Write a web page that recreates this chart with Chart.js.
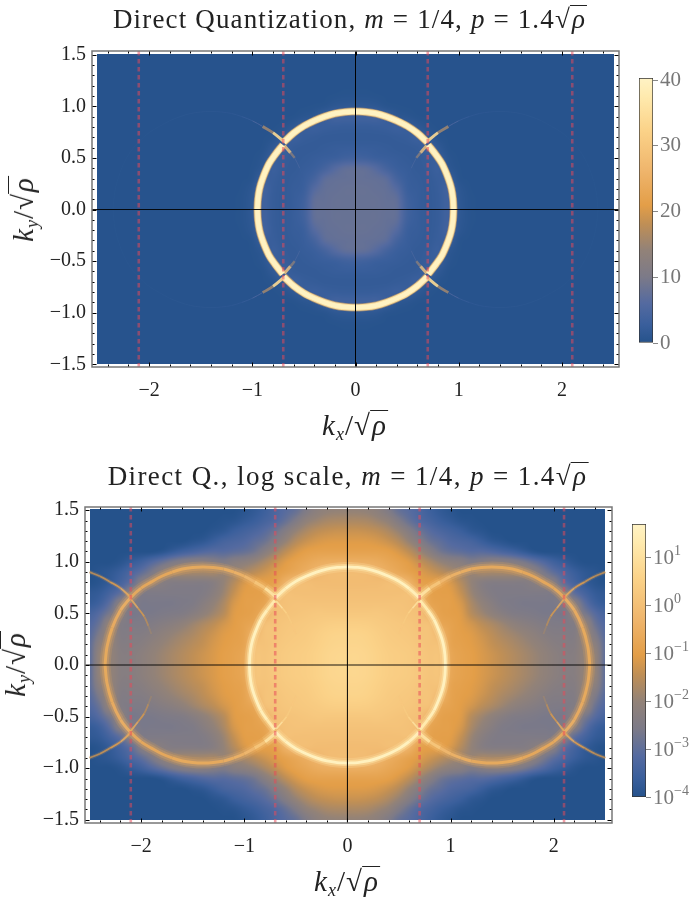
<!DOCTYPE html>
<html>
<head>
<meta charset="utf-8">
<title>Direct Quantization</title>
<script src="https://cdn.jsdelivr.net/npm/chart.js@4"></script>
<style>
  html, body { margin: 0; padding: 0; background: #fff; }
  body { position: relative; width: 689px; height: 897px; overflow: hidden; font-family: "Liberation Serif", serif; color: #222; }
  canvas { position: absolute; }
  .txt { position: absolute; white-space: nowrap; line-height: 1; transform: translate(-50%, -50%); }
  .title { font-size: 27px; letter-spacing: 1.15px; }
  .axis { font-size: 29px; letter-spacing: 1px; }
  .axis sub { font-size: 18px; line-height: 0; vertical-align: -5px; }
  .vert { transform: translate(-50%, -50%) rotate(-90deg); }
  .rad { display: inline-block; }
  .rad b { font-weight: normal; display: inline-block; border-top: 1px solid #222; padding: 1px 1px 0 2px; margin-left: -1px; line-height: 0.9; }
</style>
</head>
<body>
<canvas id="topChart" style="left:0;top:0"></canvas>
<canvas id="topBar" style="left:639px;top:0"></canvas>
<canvas id="logChart" style="left:0;top:450px"></canvas>
<canvas id="logBar" style="left:632px;top:450px"></canvas>

<div class="txt title" style="left:350px;top:19px">Direct Quantization, <i>m</i> = 1/4, <i>p</i> = 1.4<span class="rad">√<b><i>ρ</i></b></span></div>
<div class="txt axis" style="left:355px;top:425px"><i>k<sub>x</sub></i>/<span class="rad">√<b><i>ρ</i></b></span></div>
<div class="txt axis vert" style="left:23px;top:209px"><i>k<sub>y</sub></i>/<span class="rad">√<b><i>ρ</i></b></span></div>

<div class="txt title" style="left:348px;top:476px;letter-spacing:1.4px">Direct Q., log scale, <i>m</i> = 1/4, <i>p</i> = 1.4<span class="rad">√<b><i>ρ</i></b></span></div>
<div class="txt axis" style="left:347px;top:881px"><i>k<sub>x</sub></i>/<span class="rad">√<b><i>ρ</i></b></span></div>
<div class="txt axis vert" style="left:15px;top:664px"><i>k<sub>y</sub></i>/<span class="rad">√<b><i>ρ</i></b></span></div>

<script>
// Axis ticks, shared by both panels
const xTicks = [-2.4, -2.2, -2, -1.8, -1.6, -1.4, -1.2, -1, -0.8, -0.6, -0.4, -0.2, 0, 0.2, 0.4, 0.6, 0.8, 1, 1.2, 1.4, 1.6, 1.8, 2, 2.2, 2.4];
const xMajor = [-2, -1, 0, 1, 2];
const yTicks = [-1.5, -1.4, -1.3, -1.2, -1.1, -1, -0.9, -0.8, -0.7, -0.6, -0.5, -0.4, -0.3, -0.2, -0.1, 0, 0.1, 0.2, 0.3, 0.4, 0.5, 0.6, 0.7, 0.8, 0.9, 1, 1.1, 1.2, 1.3, 1.4, 1.5];
const yMajor = [-1.5, -1, -0.5, 0, 0.5, 1, 1.5];

// Dashed vertical lines
const dashX = [-2.1, -0.7, 0.7, 2.1];

// Colour bars
const topBarTicks = [0, 10, 20, 30, 40];
const logBarTicks = [-4, -3, -2, -1, 0, 1];

// Grid of the density, one quadrant (the picture is mirrored in both axes)
const gridX = [0, 0.1, 0.2, 0.3, 0.4, 0.5, 0.6, 0.7, 0.8, 0.9, 1, 1.1, 1.2, 1.3, 1.4, 1.5, 1.6, 1.7, 1.8, 1.9, 2, 2.1, 2.2, 2.3, 2.4, 2.5];
const gridY = [0, 0.1, 0.2, 0.3, 0.4, 0.5, 0.6, 0.7, 0.8, 0.9, 1, 1.1, 1.2, 1.3, 1.4, 1.5];

// Linear panel, values 0..40, rows from y=0 upwards
const linearGrid = [
  [8, 8, 8, 7.8, 7.4, 3.8, 2.5, 2, 2.4, 3.5, 1.5, .5, .3, .3, .3, .3, .3, .3, .3, .3, .3, .3, .3, .3, .3, .3],
  [8, 8, 8, 7.7, 7.2, 3.6, 2.5, 2, 2.4, 3.5, 1.4, .5, .3, .3, .3, .3, .3, .3, .3, .3, .3, .3, .3, .3, .3, .3],
  [8, 8, 7.8, 7.5, 6, 3, 2.4, 2, 2.5, 3.6, 1.2, .4, .3, .3, .3, .3, .3, .3, .3, .3, .3, .3, .3, .3, .3, .3],
  [7.8, 7.7, 7.5, 6.8, 4.2, 2.7, 2.2, 2, 2.6, 2.5, .6, .3, .3, .3, .3, .3, .3, .3, .3, .3, .3, .3, .3, .3, .3, .3],
  [7.4, 7.2, 6, 4.2, 2.9, 2.4, 2, 2.2, 2.8, 1.2, .4, .3, .3, .3, .3, .3, .3, .3, .3, .3, .3, .3, .3, .3, .3, .3],
  [3.8, 3.6, 3, 2.7, 2.4, 2.1, 2, 2.4, 2.4, .8, .3, .3, .3, .3, .3, .3, .3, .3, .3, .3, .3, .3, .3, .3, .3, .3],
  [2.5, 2.5, 2.4, 2.2, 2, 2, 2.2, 2.8, 1.5, .4, .3, .3, .3, .3, .3, .3, .3, .3, .3, .3, .3, .3, .3, .3, .3, .3],
  [2, 2, 2, 2, 2.2, 2.4, 2.8, 1.6, .6, .3, .3, .3, .3, .3, .3, .3, .3, .3, .3, .3, .3, .3, .3, .3, .3, .3],
  [2.4, 2.4, 2.5, 2.6, 2.8, 2.4, 1.4, .6, .3, .3, .3, .3, .3, .3, .3, .3, .3, .3, .3, .3, .3, .3, .3, .3, .3, .3],
  [3.5, 3.5, 3.6, 2.5, 1.2, .8, .4, .3, .3, .3, .3, .3, .3, .3, .3, .3, .3, .3, .3, .3, .3, .3, .3, .3, .3, .3],
  [1.5, 1.4, 1.2, .6, .4, .3, .3, .3, .3, .3, .3, .3, .3, .3, .3, .3, .3, .3, .3, .3, .3, .3, .3, .3, .3, .3],
  [.5, .5, .4, .3, .3, .3, .3, .3, .3, .3, .3, .3, .3, .3, .3, .3, .3, .3, .3, .3, .3, .3, .3, .3, .3, .3],
  [.3, .3, .3, .3, .3, .3, .3, .3, .3, .3, .3, .3, .3, .3, .3, .3, .3, .3, .3, .3, .3, .3, .3, .3, .3, .3],
  [.3, .3, .3, .3, .3, .3, .3, .3, .3, .3, .3, .3, .3, .3, .3, .3, .3, .3, .3, .3, .3, .3, .3, .3, .3, .3],
  [.3, .3, .3, .3, .3, .3, .3, .3, .3, .3, .3, .3, .3, .3, .3, .3, .3, .3, .3, .3, .3, .3, .3, .3, .3, .3],
  [.3, .3, .3, .3, .3, .3, .3, .3, .3, .3, .3, .3, .3, .3, .3, .3, .3, .3, .3, .3, .3, .3, .3, .3, .3, .3]
];

// Log panel, log10 of the value, rows from y=0 upwards
const logGrid = [
  [.7, .7, .65, .55, .45, .4, .35, .25, .15, .1, -.7, -.9, -1, -1.15, -1.3, -1.45, -1.6, -1.75, -1.9, -2.05, -2.2, -2.3, -2.3, -2, -2, -3],
  [.7, .7, .65, .55, .45, .4, .35, .25, .15, .1, -.7, -.9, -1, -1.15, -1.3, -1.45, -1.6, -1.75, -1.9, -2.05, -2.2, -2.3, -2.3, -2, -2, -3],
  [.65, .65, .6, .5, .4, .35, .3, .2, .1, 0, -.8, -.95, -1.05, -1.2, -1.4, -1.55, -1.7, -1.85, -2, -2.15, -2.3, -2.35, -2.35, -2, -2.2, -3],
  [.6, .6, .55, .45, .35, .3, .25, .15, .1, -.3, -.85, -1, -1.1, -1.3, -1.5, -1.7, -1.85, -2, -2.15, -2.3, -2.4, -2.4, -2.4, -1.9, -2.5, -3.1],
  [.45, .45, .42, .35, .3, .25, .2, .1, 0, -.7, -.9, -1.05, -1.25, -1.5, -1.7, -1.9, -2.1, -2.25, -2.35, -2.45, -2.5, -2.5, -2.4, -2, -2.8, -3.2],
  [.25, .25, .25, .25, .2, .15, .1, 0, -.5, -.9, -1, -1.1, -1.55, -1.85, -2.1, -2.3, -2.45, -2.5, -2.55, -2.6, -2.6, -2.6, -2.2, -2.6, -3.1, -3.4],
  [.1, .1, .1, .1, .1, .1, .05, -.1, -.8, -.95, -1, -1.2, -1.7, -2.05, -2.3, -2.5, -2.55, -2.6, -2.6, -2.6, -2.6, -2.4, -2.3, -3, -3.5, -3.7],
  [0, 0, 0, 0, 0, 0, 0, -.4, -.9, -1, -1.05, -1.4, -1.9, -2.25, -2.45, -2.5, -2.5, -2.5, -2.5, -2.5, -2.5, -2.3, -3, -3.4, -3.7, -3.8],
  [-.1, -.1, -.1, -.1, -.05, -.1, -.4, -.9, -1, -1, -1.2, -1.6, -2, -2.3, -2.4, -2.4, -2.4, -2.4, -2.3, -2.2, -2.4, -3, -3.4, -3.7, -3.9, -4],
  [-.1, -.1, -.15, -.3, -.5, -.7, -.9, -1.1, -1.3, -1.5, -1.7, -1.9, -2, -1.8, -1.8, -1.8, -1.8, -1.9, -2.2, -2.6, -3, -3.3, -3.6, -3.8, -3.9, -4],
  [-.5, -.5, -.52, -.6, -.75, -.9, -1.1, -1.4, -1.7, -2, -2.2, -2.3, -2.5, -2.4, -2.3, -2.3, -2.4, -2.6, -2.9, -3.2, -3.5, -3.7, -3.9, -4, -4, -4],
  [-.9, -.9, -.9, -.92, -1, -1.2, -1.5, -1.9, -2.3, -2.7, -2.9, -3, -3.1, -3.1, -3.2, -3.35, -3.5, -3.7, -3.9, -4, -4, -4, -4, -4, -4, -4],
  [-1.1, -1.1, -1.12, -1.2, -1.35, -1.6, -2, -2.4, -2.8, -3, -3.2, -3.3, -3.4, -3.6, -3.8, -3.9, -4, -4, -4, -4, -4, -4, -4, -4, -4, -4],
  [-1.35, -1.35, -1.4, -1.5, -1.7, -2, -2.4, -2.8, -3.1, -3.3, -3.45, -3.6, -3.8, -3.9, -4, -4, -4, -4, -4, -4, -4, -4, -4, -4, -4, -4],
  [-1.7, -1.7, -1.75, -1.9, -2.1, -2.5, -2.9, -3.2, -3.4, -3.6, -3.75, -3.9, -3.95, -4, -4, -4, -4, -4, -4, -4, -4, -4, -4, -4, -4, -4],
  [-2, -2, -2.05, -2.2, -2.5, -2.9, -3.1, -3.3, -3.55, -3.75, -3.9, -4, -4, -4, -4, -4, -4, -4, -4, -4, -4, -4, -4, -4, -4, -4]
];

// Thin bright arcs, upper right quadrant
const ringUpX = [0, 0.1, 0.2, 0.3, 0.4, 0.5, 0.6, 0.695];
const ringUpY = [0.95, 0.945, 0.93, 0.9, 0.86, 0.81, 0.74, 0.652];
const ringLowX = [0.705, 0.78, 0.84, 0.9, 0.93, 0.945, 0.95];
const ringLowY = [0.625, 0.53, 0.44, 0.3, 0.2, 0.1, 0];
const sideOutX = [0.69, 0.8, 0.9, 1, 1.1, 1.2, 1.3, 1.4, 1.5, 1.6, 1.7, 1.8, 1.9, 2, 2.1, 2.2, 2.28, 2.33, 2.35];
const sideOutY = [0.655, 0.745, 0.805, 0.86, 0.9, 0.93, 0.945, 0.95, 0.945, 0.93, 0.9, 0.86, 0.805, 0.745, 0.655, 0.53, 0.36, 0.18, 0];
const sideInX = [0.69, 0.63, 0.59, 0.54, 0.5];
const sideInY = [0.62, 0.55, 0.5, 0.4, 0.3];
const farOutX = [2.1, 2.2, 2.3, 2.4, 2.5];
const farOutY = [0.655, 0.745, 0.805, 0.86, 0.9];
const farInX = [2.1, 2.03, 1.97, 1.93, 1.9];
const farInY = [0.64, 0.55, 0.47, 0.38, 0.3];

// Brightness along the arcs, linear panel
const ringUpLin = [40, 40, 40, 40, 40, 40, 40, 40];
const ringLowLin = [40, 40, 40, 40, 40, 40, 40];
const sideOutLin = [34, 15, 5, 2.2, 1.4, 1.1, 1, .9, .9, .8, .8, .7, .7, .6, .6, .6, .6, .6, .6];
const sideInLin = [30, 13, 4.5, 2.6, 2];

// Brightness along the arcs, log panel (log10)
const ringUpLog = [1.6, 1.6, 1.6, 1.6, 1.6, 1.6, 1.5, 1.3];
const ringLowLog = [1.3, 1.5, 1.6, 1.6, 1.6, 1.6, 1.6];
const sideOutLog = [1.1, 0.2, -0.2, -0.4, -0.5, -0.6, -0.6, -0.6, -0.6, -0.6, -0.65, -0.65, -0.65, -0.6, -0.45, -0.55, -0.6, -0.6, -0.6];
const sideInLog = [1.1, 0.6, 0.35, 0.25, 0.2];
const farOutLog = [-0.6, -1, -1.3, -1.4, -1.5];
const farInLog = [-0.6, -1.1, -1.5, -1.9, -2.2];

// Colour scale of both panels and both bars
const cmapPos = [0, 0.07, 0.15, 0.25, 0.35, 0.45, 0.52, 0.65, 0.8, 0.93, 1];
const cmapRgb = [[37, 82, 139], [58, 95, 156], [84, 106, 160], [124, 122, 136], [146, 130, 120], [192, 143, 85], [227, 158, 72], [239, 181, 108], [251, 210, 136], [255, 234, 174], [255, 243, 197]];

function cmap(t) {
  t = Math.min(1, Math.max(0, t));
  let i = 0;
  while (i < cmapPos.length - 2 && t > cmapPos[i + 1]) i++;
  const f = (t - cmapPos[i]) / (cmapPos[i + 1] - cmapPos[i]);
  return cmapRgb[i].map((c, k) => c + (cmapRgb[i + 1][k] - c) * f);
}

function rgba(t, a) {
  const c = cmap(t);
  return `rgba(${Math.round(c[0])},${Math.round(c[1])},${Math.round(c[2])},${a})`;
}

const linearT = v => v / 40.35;
const logT = v => (v + 4) / 5.7;

// Catmull-Rom weights, the grid is mirrored through the axes when read
function crWeights(f) {
  return [-0.5 * f + f * f - 0.5 * f * f * f, 1 - 2.5 * f * f + 1.5 * f * f * f, 0.5 * f + 2 * f * f - 1.5 * f * f * f, -0.5 * f * f + 0.5 * f * f * f];
}

function readGrid(grid, x, y) {
  const gx = Math.abs(x) / 0.1, gy = Math.abs(y) / 0.1;
  const ix = Math.floor(gx), iy = Math.floor(gy);
  const wx = crWeights(gx - ix), wy = crWeights(gy - iy);
  let s = 0;
  for (let j = 0; j < 4; j++) {
    const r = grid[Math.min(gridY.length - 1, Math.abs(iy + j - 1))];
    for (let i = 0; i < 4; i++) {
      s += wy[j] * wx[i] * r[Math.min(gridX.length - 1, Math.abs(ix + i - 1))];
    }
  }
  return s;
}

const heatmapPlugin = {
  id: 'heatmap',
  beforeDatasetsDraw(chart, args, opts) {
    const { ctx, scales: { x, y } } = chart;
    const left = Math.round(x.getPixelForValue(-2.5));
    const right = Math.round(x.getPixelForValue(2.5));
    const top = Math.round(y.getPixelForValue(1.51));
    const bottom = Math.round(y.getPixelForValue(-1.5));
    const img = ctx.createImageData(right - left, bottom - top);
    let p = 0;
    for (let py = top; py < bottom; py++) {
      const vy = Math.min(1.5, Math.abs(y.getValueForPixel(py + 0.5)));
      for (let px = left; px < right; px++) {
        const vx = x.getValueForPixel(px + 0.5);
        const c = cmap(opts.toT(readGrid(opts.grid, vx, vy)));
        img.data[p++] = c[0];
        img.data[p++] = c[1];
        img.data[p++] = c[2];
        img.data[p++] = 255;
      }
    }
    ctx.putImageData(img, left, top);
  }
};

// Gray frame with black inward ticks on all four sides
const framePlugin = {
  id: 'frame',
  afterDatasetsDraw(chart) {
    const { ctx, chartArea: a, scales: { x, y } } = chart;
    ctx.save();
    ctx.strokeStyle = '#000';
    ctx.lineWidth = 1;
    ctx.beginPath();
    xTicks.forEach(v => {
      const px = Math.round(x.getPixelForValue(v)) + 0.5;
      const len = xMajor.includes(v) ? 4.5 : 2.5;
      ctx.moveTo(px, a.top); ctx.lineTo(px, a.top + len);
      ctx.moveTo(px, a.bottom); ctx.lineTo(px, a.bottom - len);
    });
    yTicks.forEach(v => {
      const py = Math.round(y.getPixelForValue(v)) + 0.5;
      const len = yMajor.includes(v) ? 4.5 : 2.5;
      ctx.moveTo(a.left, py); ctx.lineTo(a.left + len, py);
      ctx.moveTo(a.right, py); ctx.lineTo(a.right - len, py);
    });
    ctx.stroke();
    ctx.strokeStyle = '#777';
    ctx.lineWidth = 1.5;
    ctx.strokeRect(a.left, a.top, a.right - a.left, a.bottom - a.top);
    ctx.restore();
  }
};

// All four mirror images of an arc, with gaps between them
function mirrored(xs, ys, vs) {
  const out = [];
  [[1, 1], [-1, 1], [-1, -1], [1, -1]].forEach(([sx, sy]) => {
    xs.forEach((x, i) => out.push({ x: sx * x, y: sy * ys[i], v: vs[i] }));
    out.push({ x: NaN, y: NaN, v: 0 });
  });
  return out;
}

// l.taper: the line gets thin where the arc is weak
function arcLayers(xs, ys, vs, toT, layers) {
  return layers.map(l => ({
    data: mirrored(xs, ys, vs),
    showLine: true,
    pointRadius: 0,
    spanGaps: false,
    tension: 0.35,
    borderWidth: l.w,
    borderCapStyle: 'butt',
    borderColor: rgba(1, l.a),
    segment: {
      borderColor: c => rgba(toT(c.p0.raw.v) * l.k, l.a),
      borderWidth: c => l.taper ? Math.max(1, l.w * Math.min(1, toT(c.p0.raw.v) * l.taper)) : l.w
    }
  }));
}

function straight(points, color, width, dash) {
  return { data: points, showLine: true, pointRadius: 0, tension: 0, borderColor: color, borderWidth: width, borderDash: dash || [] };
}

function panelOptions(xMin, xMax, yMin, yMax, pad, yAxisWidth, xAxisHeight, grid, toT) {
  const tickFont = { family: '"Liberation Serif", serif', size: 20 };
  return {
    responsive: false,
    animation: false,
    events: [],
    layout: { padding: pad },
    plugins: { legend: { display: false }, tooltip: { enabled: false }, heatmap: { grid, toT } },
    scales: {
      x: {
        type: 'linear', min: xMin, max: xMax,
        grid: { display: false, drawTicks: false }, border: { display: false },
        afterBuildTicks: s => { s.ticks = xTicks.map(value => ({ value })); },
        afterFit: s => { s.height = xAxisHeight; },
        ticks: {
          autoSkip: false, maxRotation: 0, padding: 12, color: '#222', font: tickFont,
          callback: v => xMajor.includes(v) ? String(v).replace('-', '\u2212') : ''
        }
      },
      y: {
        type: 'linear', min: yMin, max: yMax,
        grid: { display: false, drawTicks: false }, border: { display: false },
        afterBuildTicks: s => { s.ticks = yTicks.map(value => ({ value })); },
        afterFit: s => { s.width = yAxisWidth; },
        ticks: {
          autoSkip: false, padding: 6, color: '#222', font: tickFont,
          callback: v => yMajor.includes(v) ? v.toFixed(1).replace('-', '\u2212') : ''
        }
      }
    }
  };
}

function dashedLines(yMin, yMax) {
  return dashX.map(x => straight([{ x, y: yMax }, { x, y: yMin }], 'rgba(232,72,88,0.52)', 2.6, [4.5, 3.5]));
}

function zeroLines(xMin, xMax, yMin, yMax) {
  return [
    straight([{ x: xMin, y: 0 }, { x: xMax, y: 0 }], 'rgba(0,0,0,0.9)', 1),
    straight([{ x: 0, y: yMin }, { x: 0, y: yMax }], '#000', 1)
  ];
}

function sizeCanvas(id, w, h) {
  const el = document.getElementById(id);
  el.width = w; el.height = h;
  return el;
}

// Top panel
const topLim = [-2.553, 2.553, -1.526, 1.536];
const topRingLayers = [{ w: 8, a: 0.55, k: 0.6 }, { w: 6.5, a: 0.95, k: 0.88 }, { w: 4.6, a: 1, k: 1 }];
const topSets = [
  ...arcLayers(sideOutX, sideOutY, sideOutLin, linearT, [{ w: 3, a: 0.9, k: 1, taper: 2.5 }]),
  ...arcLayers(sideInX, sideInY, sideInLin, linearT, [{ w: 3, a: 0.8, k: 1, taper: 2.5 }]),
  ...arcLayers(ringUpX, ringUpY, ringUpLin, linearT, topRingLayers),
  ...arcLayers(ringLowX, ringLowY, ringLowLin, linearT, topRingLayers),
  ...dashedLines(topLim[2], topLim[3]),
  ...zeroLines(...topLim)
];

new Chart(sizeCanvas('topChart', 689, 450), {
  type: 'scatter',
  data: { datasets: topSets.reverse() },
  options: panelOptions(...topLim, { top: 51, right: 70, left: 0, bottom: 0 }, 92, 83, linearGrid, linearT),
  plugins: [heatmapPlugin, framePlugin]
});

// Log panel
const logLim = [-2.544, 2.565, -1.531, 1.531];
const sideLayers = [{ w: 11, a: 0.18, k: 0.95 }, { w: 7, a: 0.3, k: 1 }, { w: 3, a: 0.9, k: 1 }];
const farLayers = [{ w: 4, a: 0.22, k: 1 }, { w: 1.8, a: 0.85, k: 1 }];
const logRingLayers = [{ w: 10, a: 0.25, k: 0.92 }, { w: 6, a: 0.45, k: 0.95 }, { w: 2.8, a: 1, k: 1 }];
const logSets = [
  ...arcLayers(sideOutX, sideOutY, sideOutLog, logT, sideLayers),
  ...arcLayers(farOutX, farOutY, farOutLog, logT, farLayers),
  ...arcLayers(farInX, farInY, farInLog, logT, [{ w: 1.8, a: 0.8, k: 1 }]),
  ...arcLayers(sideInX, sideInY, sideInLog, logT, [{ w: 1.6, a: 0.8, k: 1 }]),
  ...arcLayers(ringUpX, ringUpY, ringUpLog, logT, logRingLayers),
  ...arcLayers(ringLowX, ringLowY, ringLowLog, logT, logRingLayers),
  ...dashedLines(logLim[2], logLim[3]),
  ...zeroLines(...logLim)
];

new Chart(sizeCanvas('logChart', 689, 447), {
  type: 'scatter',
  data: { datasets: logSets.reverse() },
  options: panelOptions(...logLim, { top: 57, right: 77, left: 0, bottom: 0 }, 85, 74, logGrid, logT),
  plugins: [heatmapPlugin, framePlugin]
});

// Colour bars: one floating bar with the colour scale as its fill
function barGradient(c) {
  const a = c.chart.chartArea;
  if (!a) return '#888';
  const g = c.chart.ctx.createLinearGradient(0, a.bottom, 0, a.top);
  cmapPos.forEach(p => g.addColorStop(p, rgba(p, 1)));
  return g;
}

function barOptions(min, max, ticks, pad, labelWidth, callback) {
  return {
    responsive: false,
    animation: false,
    events: [],
    layout: { padding: pad },
    plugins: { legend: { display: false }, tooltip: { enabled: false } },
    scales: {
      x: { display: false },
      y: {
        position: 'right', min, max,
        grid: { drawOnChartArea: false, tickLength: 5, tickColor: '#888' },
        border: { display: false },
        afterBuildTicks: s => { s.ticks = ticks.map(value => ({ value })); },
        afterFit: s => { s.width = labelWidth; },
        ticks: { autoSkip: false, padding: 2, color: '#777', font: { family: '"Liberation Serif", serif', size: 21 }, callback }
      }
    }
  };
}

function barDataset(min, max) {
  return { labels: [''], datasets: [{ data: [[min, max]], backgroundColor: barGradient, borderColor: '#333', borderWidth: 1, borderSkipped: false, barPercentage: 1, categoryPercentage: 1 }] };
}

new Chart(sizeCanvas('topBar', 50, 450), {
  type: 'bar',
  data: barDataset(0, 40.35),
  options: barOptions(0, 40.35, topBarTicks, { top: 78, bottom: 107, left: 0, right: 0 }, 36, v => String(v))
});

// 10 with a raised exponent, placed through the bar's own scale
const powerLabels = {
  id: 'powerLabels',
  afterDraw(chart) {
    const { ctx, scales: { y }, chartArea: a } = chart;
    ctx.save();
    ctx.fillStyle = '#777';
    ctx.textBaseline = 'middle';
    logBarTicks.forEach(v => {
      const py = y.getPixelForValue(v);
      ctx.font = '21px "Liberation Serif", serif';
      ctx.fillText('10', a.right + 7, py + 1);
      ctx.font = '14px "Liberation Serif", serif';
      ctx.fillText(String(v).replace('-', '\u2212'), a.right + 28, py - 6);
    });
    ctx.restore();
  }
};

new Chart(sizeCanvas('logBar', 57, 447), {
  type: 'bar',
  data: barDataset(-4, 1.7),
  options: barOptions(-4, 1.7, logBarTicks, { top: 74, bottom: 100, left: 0, right: 0 }, 43, () => ''),
  plugins: [powerLabels]
});
</script>
</body>
</html>
